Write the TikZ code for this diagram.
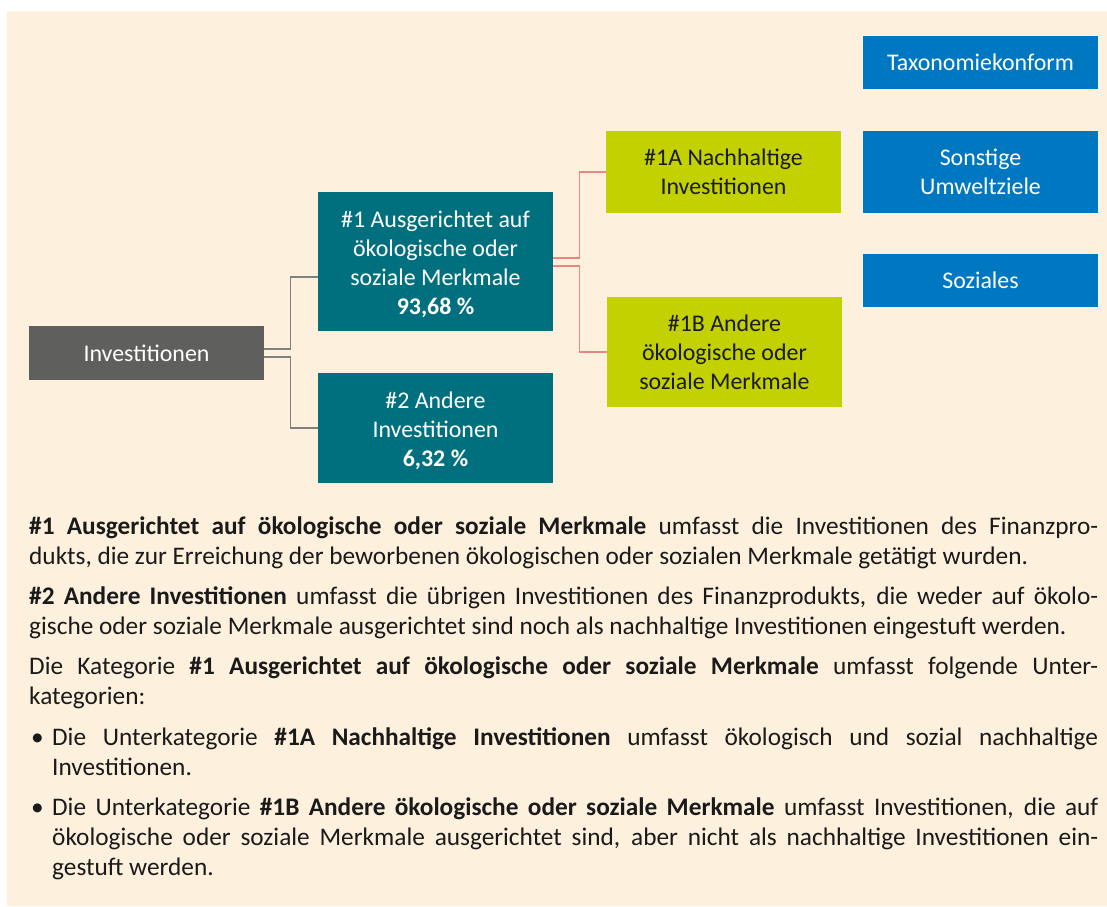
\documentclass[tikz,border=0pt]{standalone}
\usepackage{fontspec}
\setmainfont{Carlito}
\definecolor{bgc}{HTML}{FDF0DC}
\definecolor{tealc}{HTML}{00707F}
\definecolor{bluec}{HTML}{0078C1}
\definecolor{grayc}{HTML}{5F5F5E}
\definecolor{limec}{HTML}{C3D100}
\definecolor{redline}{HTML}{E8877E}
\definecolor{grayline}{HTML}{808080}
\definecolor{txtc}{HTML}{1A1A1A}
\newcommand{\boxfont}{\fontsize{23.9}{29}\selectfont}
\newcommand{\parafont}{\fontsize{25.3}{30}\selectfont}
\newcommand{\topfix}{\rule{0pt}{22.5pt}}
\begin{document}
\begin{tikzpicture}[x=1pt,y=-1pt,
  box/.style={inner sep=0pt, minimum width=235pt, align=center, font=\boxfont},
  tealbox/.style={box, fill=tealc, text=white},
  bluebox/.style={box, fill=bluec, text=white},
  graybox/.style={box, fill=grayc, text=white},
  limebox/.style={box, fill=limec, text=txtc},
  gconn/.style={draw=grayline, line width=1.3pt},
  rconn/.style={draw=redline, line width=1.3pt},
  para/.style={inner sep=0pt, text width=1069pt, align=justify, font=\parafont, text=txtc}]
\useasboundingbox (0,0) rectangle (1107,906);
\fill[bgc] (7,11) rectangle (1107,906);

\node[graybox, minimum height=54pt] (inv) at (146.5,353) {Investitionen};
\node[tealbox, minimum height=139pt] (g1) at (435.5,261.5) {\topfix\#1 Ausgerichtet auf\\ökologische oder\\soziale Merkmale\\\textbf{93,68 \%}};
\node[tealbox, minimum height=110pt] (g2) at (435.5,428) {\topfix\#2 Andere\\Investitionen\\\textbf{6,32 \%}};
\node[limebox, minimum height=82pt] (a1) at (723.5,172) {\#1A Nachhaltige\\Investitionen};
\node[limebox, minimum height=110pt] (b1) at (724.5,352) {\#1B Andere\\ökologische oder\\soziale Merkmale};
\node[bluebox, minimum height=53pt] (tax) at (980.5,62.5) {Taxonomiekonform};
\node[bluebox, minimum height=82pt] (son) at (980.5,172) {Sonstige\\Umweltziele};
\node[bluebox, minimum height=53pt] (soz) at (980.5,280.5) {Soziales};

\draw[gconn] ([yshift=4pt]inv.east) -- ++(26,0) |- ([yshift=-15.5pt]g1.west);
\draw[gconn] ([yshift=-4pt]inv.east) -- ++(26,0) |- (g2.west);
\draw[rconn] ([yshift=3.5pt]g1.east) -- ++(26,0) |- (a1.west);
\draw[rconn] ([yshift=-4.5pt]g1.east) -- ++(26,0) |- (b1.west);

\node[para, anchor=north west] (txt) at (29,513) {\setlength\parindent{0pt}\setlength\parskip{10.3pt}%
\strut\textbf{\#1 Ausgerichtet auf ökologische oder soziale Merkmale} umfasst die Investitionen des Finanzpro-\linebreak dukts, die zur Erreichung der beworbenen ökologischen oder sozialen Merkmale getätigt wurden.\par
\textbf{\#2 Andere Investitionen} umfasst die übrigen Investitionen des Finanzprodukts, die weder auf ökolo-\linebreak gische oder soziale Merkmale ausgerichtet sind noch als nachhaltige Investitionen eingestuft werden.\par
Die Kategorie \textbf{\#1 Ausgerichtet auf ökologische oder soziale Merkmale} umfasst folgende Unter-\linebreak kategorien:\par
\hangindent=23pt\hangafter=1 \makebox[23pt][l]{\hspace{2pt}•}Die Unterkategorie \textbf{\#1A Nachhaltige Investitionen} umfasst ökologisch und sozial nachhaltige\linebreak Investitionen.\par
\hangindent=23pt\hangafter=1 \makebox[23pt][l]{\hspace{2pt}•}Die Unterkategorie \textbf{\#1B Andere ökologische oder soziale Merkmale} umfasst Investitionen, die auf\linebreak ökologische oder soziale Merkmale ausgerichtet sind, aber nicht als nachhaltige Investitionen ein-\linebreak gestuft werden.\par};
\end{tikzpicture}
\end{document}
